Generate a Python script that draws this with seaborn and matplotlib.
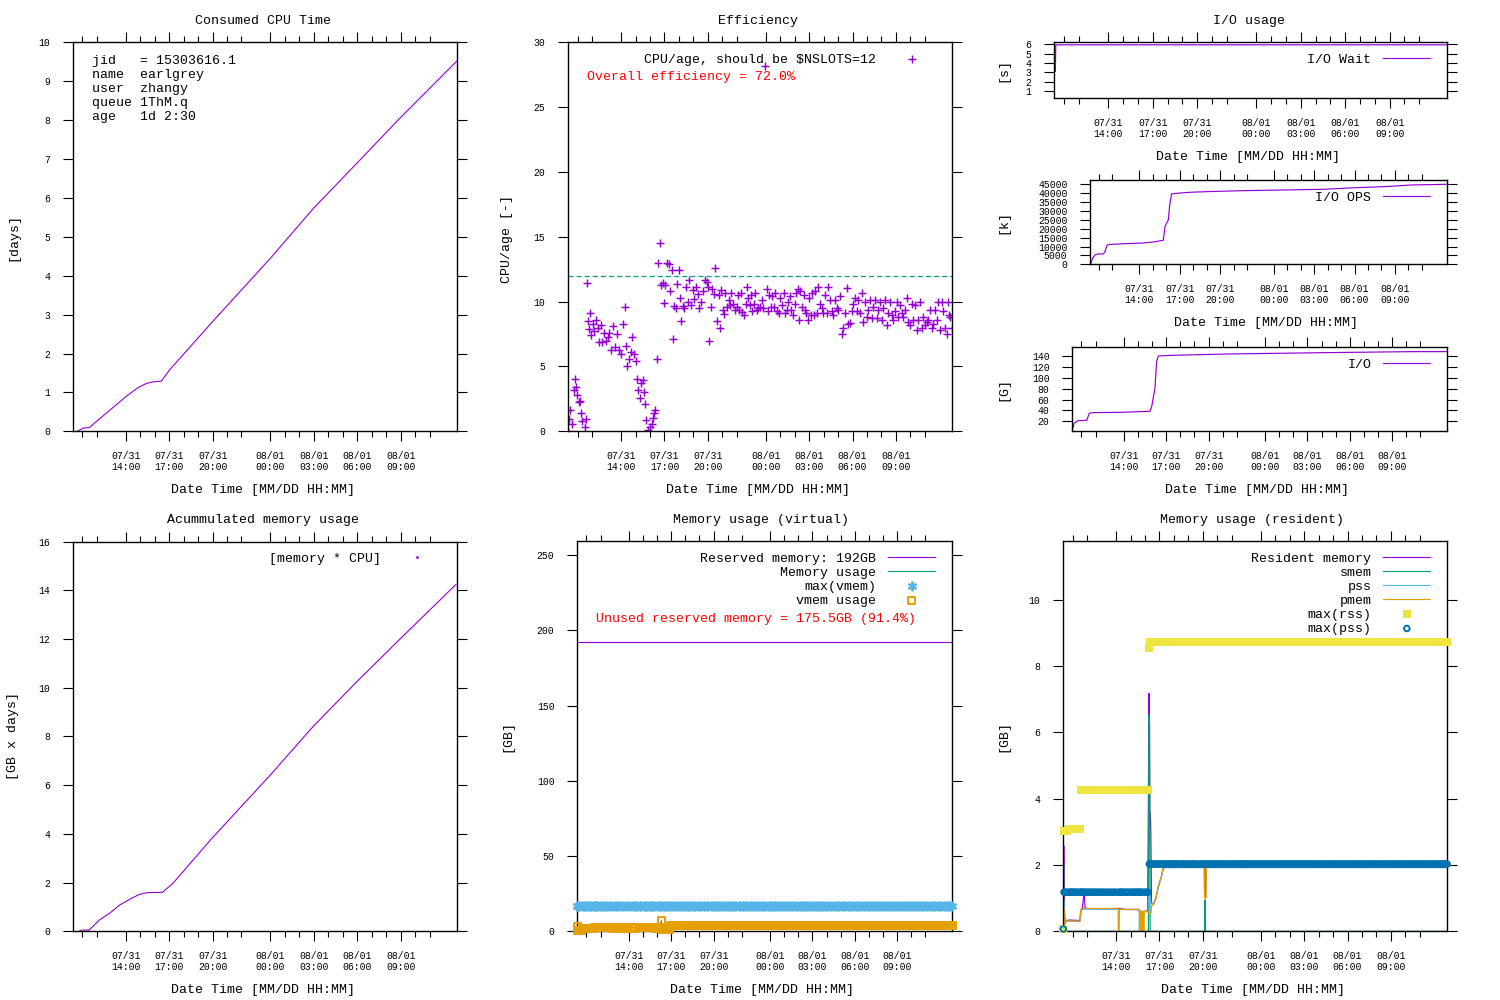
import numpy as np
import matplotlib
matplotlib.use("Agg")
import matplotlib.pyplot as plt
from matplotlib.lines import Line2D
import seaborn as sns

# ---------------- data ----------------
job_start_hour = 10.35          # 07/31 10:21, hours since 07/31 00:00
axis_end_hour = 36.9

tick_hours = [14, 17, 20, 24, 27, 30, 33]
tick_labels = ["07/31\n14:00", "07/31\n17:00", "07/31\n20:00", "08/01\n00:00",
               "08/01\n03:00", "08/01\n06:00", "08/01\n09:00"]
minor_tick_hours = [11, 12, 15, 16, 18, 19, 21, 22, 25, 26, 28, 29, 31, 32, 34, 35]

info_lines = ["jid   = 15303616.1", "name  earlgrey", "user  zhangy",
              "queue 1ThM.q", "age   1d 2:30"]

# Consumed CPU time
cpu_hours = [10.65, 11.04, 11.5, 11.96, 14.0, 14.84, 15.42, 15.88, 16.46, 17.03,
             20.0, 24.0, 26.97, 30.0, 32.95, 36.9]
cpu_days = [0.0, 0.08, 0.1, 0.25, 0.89, 1.12, 1.23, 1.27, 1.29, 1.58,
            2.82, 4.45, 5.73, 6.9, 8.05, 9.52]

# sampling times (minutes after job start) and efficiency
sample_minutes = [
    0, 3, 8, 15, 24, 28, 32, 37, 43, 48, 54, 58, 68, 72, 76, 80, 84, 90, 95, 101,
    108, 115, 122, 127, 134, 141, 148, 155, 163, 170, 178, 187, 194, 203, 210, 217, 228, 236, 239, 245,
    250, 259, 266, 272, 282, 286, 290, 297, 303, 308, 314, 319, 322, 332, 339, 346, 351, 357, 361, 368,
    373, 382, 386, 391, 397, 402, 411, 416, 422, 429, 436, 440, 447, 449, 459, 463, 469, 474, 480, 488,
    495, 502, 508, 517, 523, 530, 537, 542, 550, 557, 567, 574, 579, 585, 591, 597, 604, 610, 615, 624,
    629, 635, 641, 646, 651, 657, 665, 671, 676, 685, 692, 698, 704, 709, 715, 722, 729, 736, 740, 747,
    752, 758, 763, 770, 776, 783, 788, 795, 802, 809, 817, 823, 828, 834, 841, 846, 852, 859, 866, 873,
    880, 886, 893, 899, 906, 913, 918, 925, 932, 939, 945, 951, 957, 963, 969, 976, 982, 987, 994, 1000,
    1005, 1012, 1018, 1025, 1030, 1037, 1044, 1051, 1058, 1065, 1072, 1079, 1086, 1093, 1099, 1106, 1113, 1120, 1127, 1134,
    1141, 1148, 1155, 1162, 1169, 1176, 1182, 1189, 1196, 1203, 1210, 1217, 1224, 1231, 1238, 1245, 1252, 1259, 1265, 1272,
    1279, 1286, 1293, 1300, 1307, 1314, 1321, 1328, 1335, 1342, 1348, 1355, 1362, 1369, 1376, 1383, 1390, 1397, 1404, 1411,
    1418, 1424, 1431, 1438, 1445, 1452, 1459, 1466, 1473, 1480, 1487, 1494, 1501, 1507, 1514, 1521, 1528, 1535, 1542, 1549,
    1556, 1563, 1570, 1574, 1579, 1584, 1592]
cpu_per_age = [
    0.0, 0.93, 1.65, 0.6, 3.2, 4.0, 3.4, 2.8, 2.25, 2.3, 1.4, 0.8, 0.35, 0.95, 11.4, 8.5, 7.9, 9.1, 7.4, 8.3,
    7.7, 8.6, 8.0, 6.9, 8.2, 6.9, 7.55, 7.0, 7.3, 7.6, 6.3, 8.1, 6.5, 7.5, 6.3, 6.0, 8.3, 9.55, 6.6, 5.0,
    5.55, 6.15, 7.3, 5.95, 5.4, 4.0, 3.2, 2.55, 3.7, 3.95, 3.05, 2.1, 0.87, 0.1, 0.36, 0.57, 1.0, 1.4, 1.65, 5.6,
    12.95, 14.5, 11.3, 11.4, 9.9, 11.3, 12.95, 12.9, 10.85, 12.45, 7.1, 9.7, 9.5, 11.35, 12.45, 10.25, 8.5, 9.65, 9.5, 11.1,
    10.0, 11.7, 9.75, 10.9, 10.2, 11.15, 10.6, 9.5, 10.0, 10.8, 11.65, 11.55, 11.1, 6.95, 9.6, 11.0, 10.6, 12.6, 8.5, 10.55,
    8.0, 10.9, 9.35, 9.05, 10.65, 9.6, 10.1, 9.75, 10.65, 9.85, 9.35, 9.6, 10.5, 9.35, 10.65, 9.2, 9.0, 9.85, 11.15, 10.25,
    9.75, 10.55, 9.25, 9.8, 10.65, 9.35, 9.5, 9.6, 10.1, 9.5, 28.2, 11.0, 9.25, 10.5, 9.55, 10.45, 9.6, 10.65, 9.25, 9.1,
    10.25, 9.75, 10.65, 9.1, 9.35, 10.0, 10.4, 9.35, 9.0, 9.85, 10.65, 11.0, 8.6, 10.8, 9.6, 10.5, 9.35, 9.1, 8.6, 10.25,
    9.0, 10.65, 9.0, 10.8, 9.1, 11.1, 9.85, 9.5, 9.1, 10.5, 9.1, 11.1, 10.1, 9.25, 9.0, 10.1, 9.5, 9.35, 10.4, 7.5,
    7.95, 9.1, 11.05, 8.3, 8.35, 9.25, 9.85, 10.25, 9.25, 10.1, 9.1, 10.65, 8.45, 10.0, 8.85, 9.35, 10.1, 8.7, 9.6, 10.1,
    8.7, 9.35, 10.0, 8.6, 9.5, 10.1, 8.2, 9.1, 10.0, 9.0, 8.6, 9.25, 10.0, 8.85, 9.75, 9.1, 8.85, 9.35, 10.25, 8.45,
    8.2, 9.85, 8.6, 9.75, 7.8, 8.6, 10.0, 7.95, 8.85, 8.2, 8.45, 8.6, 9.35, 7.95, 8.3, 9.35, 8.6, 10.0, 7.8, 10.0,
    9.25, 7.95, 7.5, 10.0, 9.0, 8.85, 7.95]
nslots = 12
overall_efficiency = 72.0

# I/O
io_wait_hours = [10.42, 10.45, 36.9]
io_wait_s = [3.1, 5.93, 5.93]
io_ops_hours = [10.4, 10.52, 10.7, 10.94, 11.32, 11.44, 11.61, 11.94, 13.05, 14.29, 15.04, 15.78, 15.9,
                16.15, 16.27, 16.4, 16.77, 17.76, 19.0, 21.85, 24.7, 27.68, 30.16, 32.26, 34.25, 36.85]
io_ops_k = [560, 3375, 5250, 5810, 5810, 7125, 10875, 11250, 11625, 12000, 12560, 13500, 21190,
            24940, 34310, 39560, 39940, 40500, 40880, 41440, 41810, 42190, 43125, 43690, 44630, 45000]
io_hours = [10.4, 10.47, 10.66, 10.78, 11.37, 11.55, 11.84, 13.96, 15.85, 15.97, 16.2, 16.32, 16.44,
            17.38, 21.5, 28.48, 34.49, 36.85]
io_gb = [7.1, 16.3, 19.4, 21.2, 21.8, 34.8, 36.0, 36.6, 38.5, 47.0, 80.9, 130.2, 140.6,
         141.8, 144.3, 146.8, 148.6, 148.6]

# Accumulated memory
acc_hours = [10.74, 11.04, 11.46, 12.19, 12.88, 13.58, 14.38, 14.96, 15.53, 16.53, 17.26,
             19.96, 23.97, 26.94, 29.98, 32.93, 36.85]
acc_gbdays = [0.0, 0.05, 0.05, 0.47, 0.74, 1.08, 1.35, 1.52, 1.59, 1.6, 1.97,
              3.82, 6.4, 8.4, 10.25, 11.98, 14.25]

# Virtual memory
reserved_gb = 192
unused_gb = 175.5
unused_pct = 91.4
max_vmem_gb = 16.8
vmem_change_minutes = [0, 3, 24, 72, 150, 250, 330, 355, 360, 395]
vmem_levels_gb = [3.3, 0.4, 1.8, 2.6, 2.3, 2.7, 1.7, 7.0, 1.6, 3.8]

# Resident memory (minutes after job start)
rss_minutes = [0, 2, 3, 5, 8, 11, 20, 60, 66, 70, 72, 76, 79, 85, 87, 90, 94, 150, 228, 260,
               311, 318, 336, 350, 353, 355, 357, 359, 361, 363, 366, 373, 384, 394, 405, 415, 422,
               585, 586, 590, 592, 1592]
rss_gb = [0.05, 2.58, 1.4, 0.6, 0.24, 0.3, 0.34, 0.33, 0.3, 0.4, 0.6, 0.69, 0.7, 1.1, 1.1, 0.72, 0.69,
          0.68, 0.69, 0.66, 0.66, 0.6, 0.6, 0.62, 3.86, 7.18, 6.83, 3.3, 3.56, 3.0, 0.85, 0.8, 1.0,
          1.35, 1.6, 1.9, 1.93, 1.93, 1.05, 1.05, 1.93, 1.93]
smem_minutes = [0, 1, 3, 315, 316, 318, 322, 323, 325, 329, 330, 332, 353, 355, 358, 360, 586, 588, 590, 1592]
smem_gb = [0, 1.95, 0, 0, 0.6, 0, 0, 0.6, 0, 0, 0.6, 0, 0, 6.53, 6.3, 0, 0, 0.95, 0, 0]
pss_minutes = [0, 2, 4, 8, 11, 70, 76, 110, 315, 318, 330, 336, 352, 354, 360, 363, 373, 384, 394,
               405, 415, 422, 1592]
pss_gb = [0.05, 0.95, 0.5, 0.24, 0.3, 0.3, 0.66, 0.67, 0.65, 0.4, 0.4, 0.6, 0.6, 1.2, 1.2, 0.85, 0.8,
          0.98, 1.32, 1.58, 1.88, 1.92, 1.92]
pmem_minutes = [0, 1, 3, 5, 10, 60, 68, 72, 79, 227, 228, 232, 233, 316, 317, 320, 321, 324, 325, 328,
                329, 332, 333, 335, 336, 350, 352, 364, 366, 373, 384, 394, 405, 415, 422, 585, 586, 592,
                593, 1592]
pmem_gb = [0.05, 0.69, 0.69, 0.19, 0.31, 0.31, 0.28, 0.6, 0.69, 0.69, 0, 0, 0.66, 0.66, 0, 0, 0.6, 0.6,
           0, 0, 0.6, 0.6, 0, 0, 0.6, 0.6, 0.55, 0.55, 0.75, 0.85, 1.0, 1.35, 1.62, 1.92, 1.93, 1.93,
           1.0, 1.0, 1.93, 1.93]
maxrss_change_minutes = [0, 3, 20, 70, 355, 360]
maxrss_levels_gb = [0.07, 3.02, 3.08, 4.26, 8.54, 8.72]
maxpss_change_minutes = [0, 3, 355]
maxpss_levels_gb = [0.07, 1.18, 2.03]

# ---------------- style ----------------
PURPLE, GREEN, SKY, ORANGE = "#9400d3", "#009e73", "#56b4e9", "#e69f00"
YELLOW, BLUE, RED = "#f0e442", "#0072b2", "#ff0000"

sns.set_theme(style="white")
plt.rcParams.update({
    "font.family": ["Liberation Mono", "DejaVu Sans Mono"],
    "axes.edgecolor": "black", "axes.linewidth": 1.0,
    "xtick.color": "black", "ytick.color": "black",
    "text.color": "black",
    "axes.facecolor": "white", "figure.facecolor": "white",
})

W, H = 1500, 1000
fig = plt.figure(figsize=(15, 10), dpi=100)


def rect(l, t, r, b):
    return [l / W, 1 - b / H, (r - l) / W, (b - t) / H]


def ftext(x, y, s, **kw):
    kw.setdefault("fontsize", 9.5)
    kw.setdefault("va", "center")
    fig.text(x / W, 1 - y / H, s, **kw)


def hours_of(minutes):
    return job_start_hour + np.asarray(minutes, float) / 60.0


def steps_at(change_minutes, levels, minutes):
    idx = np.searchsorted(np.asarray(change_minutes, float), np.asarray(minutes, float), side="right") - 1
    return np.asarray(levels, float)[idx]


def line(ax, x, y, color, lw=0.85, **kw):
    sns.lineplot(x=np.asarray(x, float), y=np.asarray(y, float), ax=ax, color=color, lw=lw,
                 estimator=None, sort=False, legend=False, **kw)
    return ax.lines[-1]


def points(ax, x, y, **kw):
    sns.scatterplot(x=np.asarray(x, float), y=np.asarray(y, float), ax=ax, legend=False, **kw)
    return ax.collections[-1]


def style_axes(ax, yticks, ylim):
    ax.set_xlim(job_start_hour, axis_end_hour)
    ax.set_xticks(tick_hours)
    ax.set_xticklabels(tick_labels)
    ax.set_xticks(minor_tick_hours, minor=True)
    ax.set_yticks(yticks)
    ax.set_yticklabels([str(v) for v in yticks])
    ax.set_ylim(*ylim)
    ax.set_xlabel("")
    ax.set_ylabel("")
    ax.tick_params(axis="both", which="both", direction="out", top=True, right=True,
                   bottom=True, left=True, color="black", width=0.8)
    ax.tick_params(which="major", length=7.5)
    ax.tick_params(which="minor", length=4)
    ax.tick_params(axis="x", which="major", labelsize=7, pad=6.5)
    ax.tick_params(axis="y", which="major", labelsize=7, pad=9)
    for s in ax.spines.values():
        s.set_linewidth(1.0)
        s.set_color("black")
    ax.grid(False)


def gp_legend(ax, handles, labels, w_px, h_px):
    ax.legend(handles, labels, loc="upper right",
              bbox_to_anchor=(1 - 17.0 / w_px, 1 - 11.0 / h_px),
              markerfirst=False, frameon=False, borderaxespad=0, borderpad=0,
              handlelength=3.56, handletextpad=0.9, labelspacing=0.14,
              fontsize=9.5, scatterpoints=1, numpoints=1)


# ---------------- axes ----------------
ax1 = fig.add_axes(rect(73, 42.3, 457, 431.3))
ax2 = fig.add_axes(rect(568.3, 42.3, 952.3, 431.3))
ax3a = fig.add_axes(rect(1054.3, 42.3, 1447.3, 98.3))
ax3b = fig.add_axes(rect(1090.3, 180.3, 1447.3, 264.3))
ax3c = fig.add_axes(rect(1072.3, 347.3, 1447.3, 431.3))
ax4 = fig.add_axes(rect(73, 541.5, 457, 931.3))
ax5 = fig.add_axes(rect(577.3, 541.3, 952.3, 931.3))
ax6 = fig.add_axes(rect(1063.3, 541.3, 1447.3, 931.3))

sample_hours = hours_of(sample_minutes)

# 1) Consumed CPU time
line(ax1, cpu_hours, cpu_days, PURPLE, lw=0.8)
style_axes(ax1, list(range(0, 11)), (0, 10))
for i, s in enumerate(info_lines):
    ftext(92.3, 61 + 14.1 * i, s, ha="left")

# 2) Efficiency
h_eff = points(ax2, sample_hours, cpu_per_age, marker="+", s=30, color=PURPLE, linewidth=1.05)
ax2.axhline(nslots, color=GREEN, lw=0.9, ls=(0, (4, 2.5)))
style_axes(ax2, list(range(0, 31, 5)), (0, 30))
gp_legend(ax2, [h_eff], [f"CPU/age, should be $NSLOTS={nslots}"], 384, 389)
ftext(587.3, 77, f"Overall efficiency = {overall_efficiency:.1f}%", ha="left", color=RED)

# 3) I/O usage
h_w = line(ax3a, io_wait_hours, io_wait_s, PURPLE)
style_axes(ax3a, [1, 2, 3, 4, 5, 6], (0.25, 6.2))
gp_legend(ax3a, [h_w], ["I/O Wait"], 393, 56)
h_o = line(ax3b, io_ops_hours, io_ops_k, PURPLE)
style_axes(ax3b, list(range(0, 45001, 5000)), (0, 47250))
gp_legend(ax3b, [h_o], ["I/O OPS"], 357, 84)
h_g = line(ax3c, io_hours, io_gb, PURPLE)
style_axes(ax3c, list(range(20, 141, 20)), (1.5, 156.6))
gp_legend(ax3c, [h_g], ["I/O"], 375, 84)

# 4) Accumulated memory
line(ax4, acc_hours, acc_gbdays, PURPLE, lw=0.8)
style_axes(ax4, list(range(0, 17, 2)), (0, 16))
dot = Line2D([], [], color=PURPLE, marker=".", markersize=2, linestyle="none")
gp_legend(ax4, [dot], ["[memory * CPU]"], 384, 390)

# 5) Virtual memory
vmem_usage = steps_at(vmem_change_minutes, vmem_levels_gb, sample_minutes)
h_res = ax5.axhline(reserved_gb, color=PURPLE, lw=0.85)
h_mu = line(ax5, sample_hours, vmem_usage, GREEN)
h_mv = points(ax5, sample_hours, np.full(len(sample_minutes), max_vmem_gb), marker=(6, 2, 0),
              s=30, color=SKY, linewidth=1.6, clip_on=False, zorder=3)
h_vu = points(ax5, sample_hours, vmem_usage, marker="s", s=28, color=ORANGE,
              facecolor="none", edgecolor=ORANGE, linewidth=1.4, clip_on=False, zorder=4)
style_axes(ax5, list(range(0, 251, 50)), (0, 259.2))
gp_legend(ax5, [h_res, h_mu, h_mv, h_vu],
          [f"Reserved memory: {reserved_gb}GB", "Memory usage", "max(vmem)", "vmem usage"], 375, 390)
ftext(596, 619, f"Unused reserved memory = {unused_gb}GB ({unused_pct}%)", ha="left", color=RED)

# 6) Resident memory
h_rss = line(ax6, hours_of(rss_minutes), rss_gb, PURPLE)
h_sm = line(ax6, hours_of(smem_minutes), smem_gb, GREEN)
h_pss = line(ax6, hours_of(pss_minutes), pss_gb, SKY)
h_pm = line(ax6, hours_of(pmem_minutes), pmem_gb, ORANGE)
h_mr = points(ax6, sample_hours, steps_at(maxrss_change_minutes, maxrss_levels_gb, sample_minutes),
              marker="s", s=30, color=YELLOW, edgecolor=YELLOW, linewidth=0, clip_on=False, zorder=3)
h_mp = points(ax6, sample_hours, steps_at(maxpss_change_minutes, maxpss_levels_gb, sample_minutes),
              marker="o", s=16, color=BLUE, facecolor="none", edgecolor=BLUE, linewidth=1.4,
              clip_on=False, zorder=4)
style_axes(ax6, list(range(0, 11, 2)), (0, 11.77))
gp_legend(ax6, [h_rss, h_sm, h_pss, h_pm, h_mr, h_mp],
          ["Resident memory", "smem", "pss", "pmem", "max(rss)", "max(pss)"], 384, 390)

# ---------------- titles and labels ----------------
ftext(263, 21, "Consumed CPU Time", ha="center")
ftext(757.7, 21, "Efficiency", ha="center")
ftext(1249, 21, "I/O usage", ha="center")
ftext(262.7, 520, "Acummulated memory usage", ha="center")
ftext(760.7, 520, "Memory usage (virtual)", ha="center")
ftext(1251.7, 520, "Memory usage (resident)", ha="center")

xlab = "Date Time [MM/DD HH:MM]"
for (x, y) in [(263, 490), (757.7, 490), (1248, 157), (1266, 323), (1256.7, 490),
               (263, 990), (762, 990), (1253, 990)]:
    ftext(x, y, xlab, ha="center")

for (x, y, s) in [(13, 237, "[days]"), (507.3, 239, "CPU/age [-]"), (1003, 70, "[s]"),
                  (1003, 222, "[k]"), (1003, 389, "[G]"), (13, 736, "[GB x days]"),
                  (507.3, 736, "[GB]"), (1003, 736, "[GB]")]:
    ftext(x, y, s, ha="center", rotation=90)

fig.savefig("out.png", dpi=100)
